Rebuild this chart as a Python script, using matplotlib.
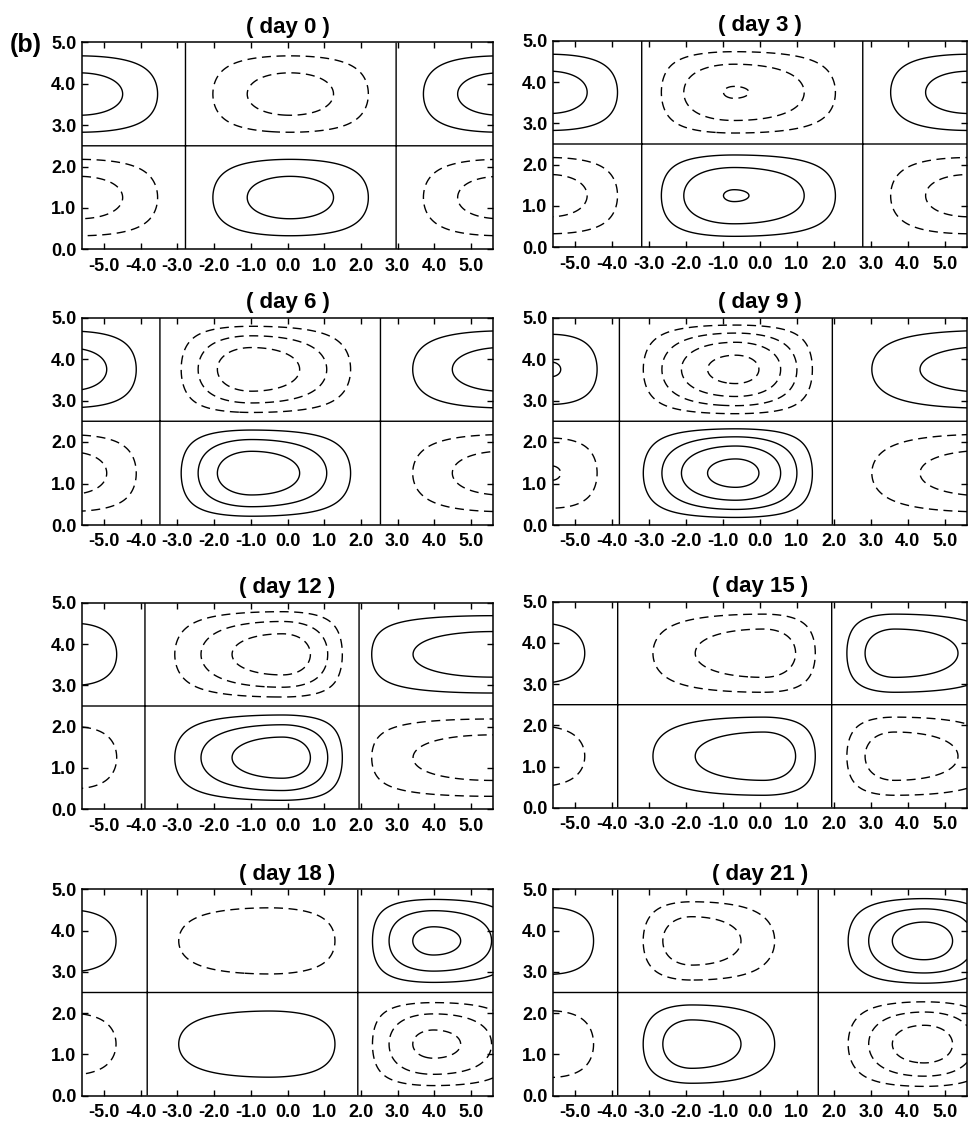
import numpy as np
import matplotlib
matplotlib.use("Agg")
import matplotlib.pyplot as plt

plt.rcParams['font.family'] = ['Liberation Sans', 'DejaVu Sans']
plt.rcParams['font.weight'] = 'bold'

# panel data (x in units of the plot, y from 0 to 5)
days = [0, 3, 6, 9, 12, 15, 18, 21]
zero_west = [-2.78, -3.20, -3.48, -3.81, -3.89, -3.85, -3.82, -3.85]
zero_east = [2.96, 2.78, 2.54, 1.96, 1.95, 1.94, 1.91, 1.58]

# middle cell (positive in the lower half)
mid_center = [0.07, -0.70, -0.98, -0.66, -0.14, 0.10, -0.49, -1.85]
mid_amp = [2.5, 3.05, 3.8, 4.4, 3.7, 2.7, 1.87, 2.7]
mid_power = [1.0, 1.0, 1.3, 1.3, 1.2, 1.0, 0.67, 1.5]

# western cell (negative in the lower half)
west_center = [-5.68, -5.70, -5.93, -5.65, -5.80, -6.00, -5.95, -5.70]
west_edge = [-8.58, -8.20, -8.38, -7.50, -7.70, -8.15, -8.10, -7.55]
west_amp = [2.5, 2.5, 2.5, 2.05, 1.7, 1.65, 1.7, 1.9]

# eastern cell (negative in the lower half)
east_center = [5.80, 5.66, 5.94, 6.20, 5.60, 3.64, 3.98, 4.44]
east_edge = [8.64, 8.54, 9.34, 10.4, 9.25, 7.30, 6.68, 7.00]
east_amp = [2.5, 2.5, 2.55, 2.6, 2.6, 2.7, 3.3, 3.57]
east_power = [1.0, 1.0, 1.0, 1.0, 0.5, 1.0, 1.0, 1.5]

levels_pos = [0, 1, 2, 3, 4]
levels_neg = [-4, -3, -2, -1]
xticks = [-5, -4, -3, -2, -1, 0, 1, 2, 3, 4, 5]
yticks = [0, 1, 2, 3, 4, 5]

# axes boxes in pixels: (left, top, right, bottom)
boxes = [
    (82, 42.3, 493, 249.3), (553, 40.7, 967, 247.3),
    (82, 317.5, 493, 525), (553, 317.5, 967, 525),
    (82, 602.7, 493, 809.3), (553, 601.7, 967, 807.7),
    (82, 889.3, 493, 1095.7), (553, 889.3, 967, 1095.7),
]
W, H = 968, 1123


def cell(x, a, c, b, amp, p):
    t = np.where(x < c, (x - a) / (c - a), (b - x) / (b - c))
    t = np.clip(t, 0, 1)
    return amp * np.sin(np.pi / 2 * t) ** p


x = np.linspace(-5.6, 5.6, 449)
y = (np.arange(240) + 0.5) * 5 / 240
X, Y = np.meshgrid(x, y)

fig = plt.figure(figsize=(W / 100, H / 100), dpi=100)

for i, day in enumerate(days):
    l, t, r, b = boxes[i]
    ax = fig.add_axes([l / W, 1 - b / H, (r - l) / W, (b - t) / H])

    g = (-cell(x, west_edge[i], west_center[i], zero_west[i], west_amp[i], 1.0)
         + cell(x, zero_west[i], mid_center[i], zero_east[i], mid_amp[i], mid_power[i])
         - cell(x, zero_east[i], east_center[i], east_edge[i], east_amp[i], east_power[i]))
    field = g[None, :] * np.sin(2 * np.pi * y / 5)[:, None]

    ax.contour(X, Y, field, levels=levels_pos, colors='k', linewidths=1.0)
    cs = ax.contour(X, Y, field, levels=levels_neg, colors='k', linewidths=1.0)
    cs.set_linestyle([(0, (6.5, 4))])

    ax.set_xlim(-5.6, 5.6)
    ax.set_ylim(0, 5)
    ax.set_xticks(xticks)
    ax.set_yticks(yticks)
    ax.set_xticklabels([f"{v:.1f}" for v in xticks])
    ax.set_yticklabels([f"{v:.1f}" for v in yticks])
    ax.tick_params(direction='in', top=True, right=True, length=4, width=1,
                   labelsize=13)
    ax.tick_params(axis='x', pad=6)
    ax.tick_params(axis='y', pad=4)
    for s in ax.spines.values():
        s.set_linewidth(1.1)
    ax.set_title(f"( day {day} )", fontsize=16, fontweight='bold', pad=7)

fig.text(10 / W, 1 - 52 / H, "(b)", fontsize=18, fontweight='bold',
         va='baseline', ha='left')

fig.savefig("out.png", dpi=100)
